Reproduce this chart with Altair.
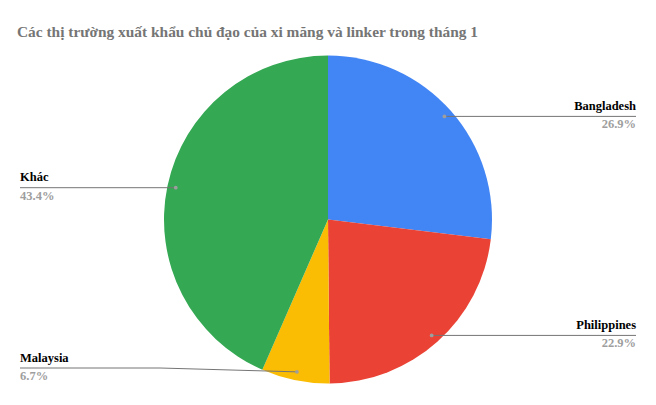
import altair as alt
import pandas as pd

title_text = "Các thị trường xuất khẩu chủ đạo của xi măng và linker trong tháng 1"
markets = ["Bangladesh", "Philippines", "Malaysia", "Khác"]
shares = [26.9, 22.9, 6.7, 43.4]
pct_labels = ["26.9%", "22.9%", "6.7%", "43.4%"]
colors = ["#4285F4", "#EA4335", "#FBBC04", "#34A853"]
order_idx = [0, 1, 2, 3]

df = pd.DataFrame({"market": markets, "share": shares, "pct": pct_labels, "ord": order_idx})

W, H = 640, 345
R = 164
RD = 155.5
FONT = "Liberation Serif"

base = alt.Chart(df).transform_joinaggregate(
    total="sum(share)"
).transform_window(
    cum="sum(share)", sort=[alt.SortField("ord")], frame=[None, 0]
).transform_calculate(
    mid=f"(datum.cum - datum.share/2)/datum.total*2*PI",
).transform_calculate(
    dotX=f"{W/2} + sin(datum.mid)*{RD}",
    dotY=f"{H/2} - cos(datum.mid)*{RD}",
    side="datum.mid < PI ? 'right' : 'left'",
).transform_calculate(
    lineY=f"min(datum.dotY, {H - 24})",
    labelX=f"datum.side == 'right' ? {W - 12} : 12",
    elbowX=f"datum.side == 'right' ? {W/2 + R + 4} : {W/2 - R - 4}",
)

pie = alt.Chart(df).mark_arc(outerRadius=R).encode(
    theta=alt.Theta("share:Q", stack=True),
    order=alt.Order("ord:Q"),
    color=alt.Color("market:N", scale=alt.Scale(domain=markets, range=colors), legend=None),
)

X = lambda f: alt.X(f, type="quantitative", scale=None, axis=None)
Y = lambda f: alt.Y(f, type="quantitative", scale=None, axis=None)

seg1 = base.mark_rule(color="#757575", strokeWidth=1).encode(
    x=X("labelX"), x2="elbowX:Q", y=Y("lineY"), y2="lineY:Q"
)
seg2 = base.mark_rule(color="#757575", strokeWidth=1).encode(
    x=X("elbowX"), x2="dotX:Q", y=Y("lineY"), y2="dotY:Q"
)
dots = base.mark_circle(color="#9e9e9e", size=14, opacity=1).encode(
    x=X("dotX"), y=Y("dotY")
)

def labels(side, align):
    b = base.transform_filter(f"datum.side == '{side}'")
    name = b.mark_text(align=align, baseline="alphabetic", dy=-6.5, font=FONT,
                       fontWeight="bold", fontSize=12.5, color="#000000").encode(
        x=X("labelX"), y=Y("lineY"), text="market:N")
    pct = b.mark_text(align=align, baseline="alphabetic", dy=12, font=FONT,
                      fontWeight="bold", fontSize=12.5, color="#9e9e9e").encode(
        x=X("labelX"), y=Y("lineY"), text="pct:N")
    return name + pct

chart = alt.layer(
    pie, seg1, seg2, dots, labels("right", "right"), labels("left", "left")
).properties(
    width=W, height=H,
    padding={"left": 0, "top": 16, "right": 0, "bottom": 0},
    title=alt.TitleParams(title_text, anchor="start", frame="group", dx=9, offset=7,
                          font=FONT, fontSize=15.4, fontWeight="bold", color="#757575"),
).configure_view(stroke=None)

chart.save("out.html", embed_options={"renderer": "svg", "actions": False})
